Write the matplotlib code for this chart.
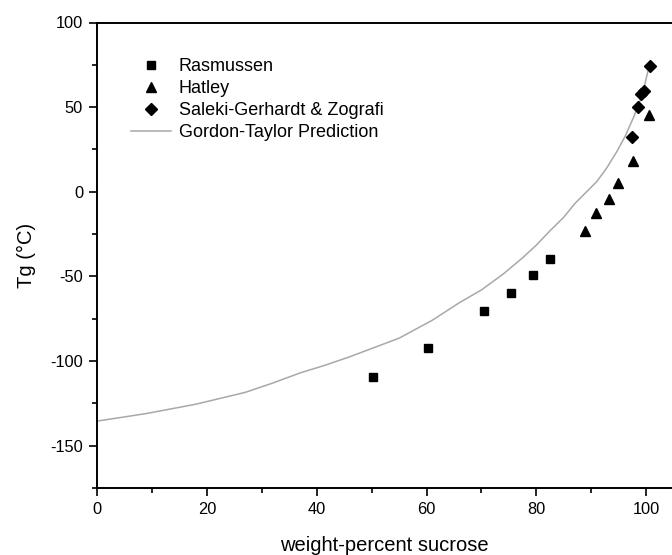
import matplotlib

matplotlib.use("Agg")
import matplotlib.pyplot as plt
from matplotlib.ticker import MultipleLocator

plt.rcParams["font.family"] = ["Liberation Sans", "DejaVu Sans"]
plt.rcParams["axes.unicode_minus"] = False

# Rasmussen
ras_x = [50.2, 60.2, 70.4, 75.3, 79.3, 82.4]
ras_y = [-109.6, -92.1, -70.4, -59.6, -49.0, -39.8]

# Hatley
hat_x = [88.9, 90.9, 93.2, 94.8, 97.6, 100.5]
hat_y = [-23.0, -12.7, -4.4, 5.4, 18.4, 45.4]

# Saleki-Gerhardt & Zografi
sal_x = [97.4, 98.6, 99.0, 99.6, 100.7]
sal_y = [32.2, 50.3, 57.8, 59.7, 74.3]

# Gordon-Taylor prediction
gt_x = [0, 9, 18, 27, 32, 37, 41.5, 46, 50.5, 55, 61, 66, 70, 74, 77.5, 80, 82.5, 85,
        87, 89, 91, 92.8, 94.7, 96.2, 97.7, 98.7, 99.5, 100.3]
gt_y = [-135.5, -131, -125.5, -118.5, -113, -107, -102.5, -97.5, -92, -86.5, -76,
        -65.5, -58, -48.5, -39, -31.5, -23, -15, -7, -0.5, 6, 14, 24, 33, 44, 52, 60, 71]

fig = plt.figure(figsize=(6.72, 5.55), dpi=100)
ax = fig.add_axes([97 / 672, 1 - 488 / 555, 1 - 97 / 672, (488 - 22.5) / 555])

ax.plot(gt_x, gt_y, color="#a8a8a8", lw=1.1, label="Gordon-Taylor Prediction", zorder=2)
ax.plot(ras_x, ras_y, ls="none", marker="s", ms=5.6, color="black", label="Rasmussen", zorder=3)
ax.plot(hat_x, hat_y, ls="none", marker="^", ms=7, color="black", label="Hatley", zorder=3)
ax.plot(sal_x, sal_y, ls="none", marker="D", ms=5.8, color="black",
        label="Saleki-Gerhardt & Zografi", zorder=3)

ax.set_xlim(0, 104.7)
ax.set_ylim(-175, 100)
ax.xaxis.set_major_locator(MultipleLocator(20))
ax.xaxis.set_minor_locator(MultipleLocator(10))
ax.yaxis.set_major_locator(MultipleLocator(50))
ax.yaxis.set_minor_locator(MultipleLocator(25))
ax.tick_params(which="major", direction="out", length=6, width=1.2, labelsize=11.8, pad=4)
ax.tick_params(which="minor", direction="out", length=3.5, width=1.2)
ax.spines["right"].set_visible(False)
for s in ("left", "bottom", "top"):
    ax.spines[s].set_linewidth(1.4)

ax.set_xlabel("weight-percent sucrose", fontsize=14.5, labelpad=14)
ax.set_ylabel("Tg (°C)", fontsize=14.5, labelpad=10)

handles, labels = ax.get_legend_handles_labels()
order = [1, 2, 3, 0]
ax.legend([handles[i] for i in order], [labels[i] for i in order],
          loc="upper left", bbox_to_anchor=(131 / 672, 1 - 58 / 555),
          bbox_transform=fig.transFigure, frameon=False, fontsize=13,
          handlelength=2.2, handletextpad=0.45, labelspacing=0.28,
          borderpad=0, borderaxespad=0)

fig.savefig("out.png", dpi=100)
